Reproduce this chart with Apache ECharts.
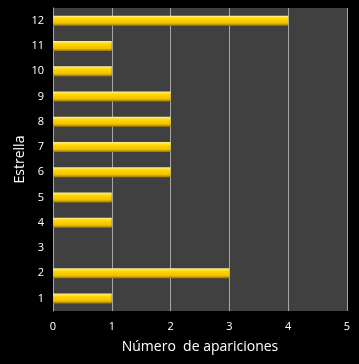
<!DOCTYPE html>
<html>
<head>
<meta charset="utf-8">
<script src="https://cdn.jsdelivr.net/npm/echarts@6/dist/echarts.min.js"></script>
<style>
  html, body { margin: 0; padding: 0; background: #000; }
  #chart { width: 359px; height: 364px; }
</style>
</head>
<body>
<div id="chart"></div>
<script>
// estrellas (de abajo hacia arriba)
var estrellas = ["1", "2", "3", "4", "5", "6", "7", "8", "9", "10", "11", "12"];
var apariciones = [1, 3, 0, 1, 1, 2, 2, 2, 2, 1, 1, 4];
var ticksX = [0, 1, 2, 3, 4, 5];

var chart = echarts.init(document.getElementById("chart"));

var option = {
  backgroundColor: "#000000",
  textStyle: { fontFamily: "Open Sans" },
  grid: {
    left: 53, right: 12, top: 8, bottom: 53,
    show: true, backgroundColor: "#404040", borderWidth: 0
  },
  xAxis: {
    type: "value",
    min: ticksX[0], max: ticksX[ticksX.length - 1], interval: 1,
    name: "Número  de apariciones",
    nameLocation: "middle", nameGap: 29,
    nameTextStyle: { color: "#ffffff", fontSize: 14 },
    axisLine: { show: false },
    axisTick: { show: false },
    axisLabel: { color: "#ffffff", fontSize: 11, margin: 10 },
    splitLine: { lineStyle: { color: "#a6a6a6", width: 1 } }
  },
  yAxis: {
    type: "category",
    data: estrellas,
    name: "Estrella",
    nameLocation: "middle", nameGap: 26, nameMoveOverlap: false,
    nameTextStyle: { color: "#ffffff", fontSize: 14 },
    axisLine: { show: true, lineStyle: { color: "#a6a6a6" } },
    axisTick: { show: false },
    axisLabel: { color: "#ffffff", fontSize: 11, margin: 9 },
    splitLine: { show: false }
  },
  series: [{
    type: "bar",
    data: apariciones,
    barWidth: 10,
    itemStyle: {
      color: new echarts.graphic.LinearGradient(0, 0, 0, 1, [
        { offset: 0, color: "#fff0a0" },
        { offset: 0.3, color: "#ffd800" },
        { offset: 0.75, color: "#f0c000" },
        { offset: 1, color: "#a07800" }
      ]),
      shadowColor: "rgba(0,0,0,0.7)",
      shadowBlur: 2,
      shadowOffsetX: 1,
      shadowOffsetY: 2
    }
  }]
};

chart.setOption(option);
</script>
</body>
</html>
